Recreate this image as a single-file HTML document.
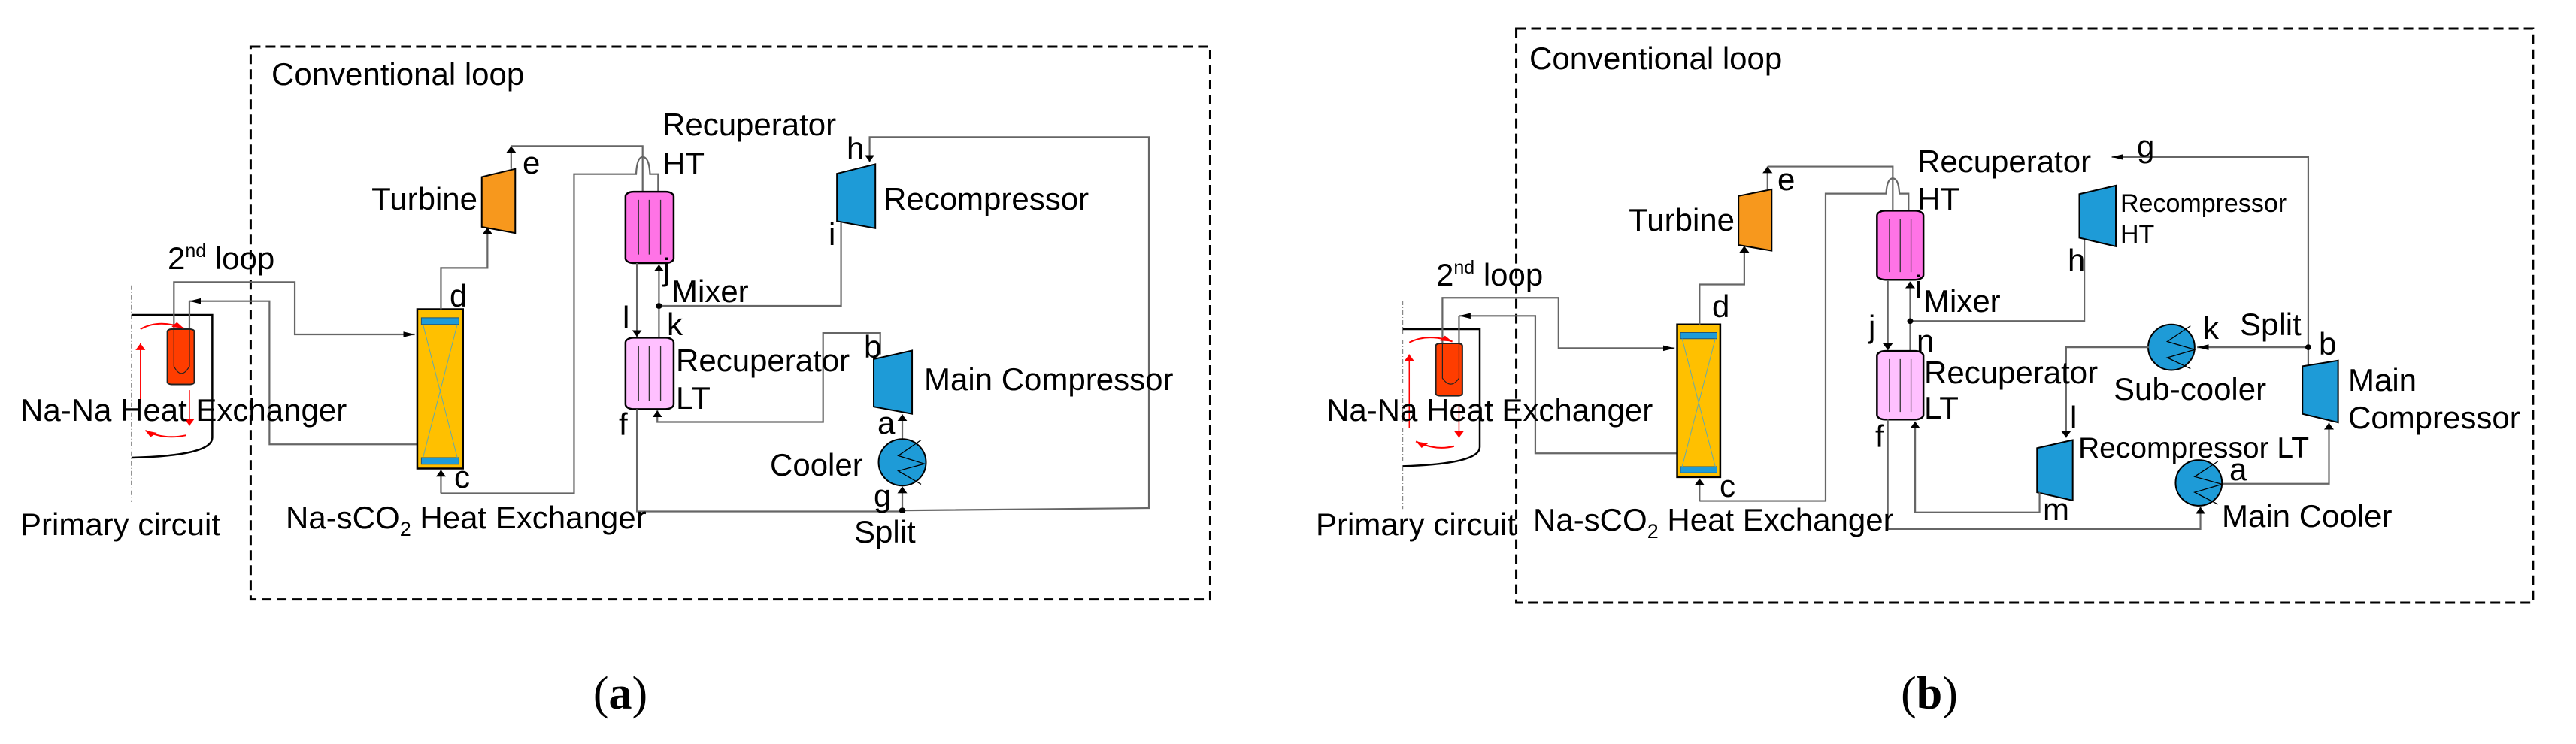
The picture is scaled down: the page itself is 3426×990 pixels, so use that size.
<!DOCTYPE html>
<html><head><meta charset="utf-8"><style>
html,body{margin:0;padding:0;background:#fff}
svg{display:block}
text{font-family:"Liberation Sans",sans-serif;fill:#000}
.s{fill:none;stroke:#666;stroke-width:2.2}
.k{fill:none;stroke:#000;stroke-width:2.5}
.d{fill:none;stroke:#000;stroke-width:3;stroke-dasharray:13 7}
</style></head><body>
<svg width="3426" height="990" viewBox="0 0 3426 990" xmlns="http://www.w3.org/2000/svg">
<defs>
<marker id="ar" markerUnits="userSpaceOnUse" markerWidth="16" markerHeight="16" refX="14" refY="8" orient="auto"><path d="M0,2 L14,8 L0,14 Z" fill="#000"/></marker>
<marker id="rr" markerUnits="userSpaceOnUse" markerWidth="16" markerHeight="16" refX="14" refY="8" orient="auto"><path d="M0,2 L14,8 L0,14 Z" fill="#f00"/></marker>
</defs>

<!-- ================= PANEL A ================= -->
<g transform="matrix(1.086 0 0 0.633 0 0)">
<rect x="307" y="98" width="1175" height="1162" class="d" vector-effect="non-scaling-stroke"/>
<line x1="161" y1="600" x2="161" y2="1055" stroke="#888" stroke-width="1.5" stroke-dasharray="6 3 1 3" vector-effect="non-scaling-stroke"/>
<path d="M161,662 H260 V920 Q260,958 161,962" class="k" vector-effect="non-scaling-stroke"/>
<path d="M213,692 V593 H361 V703 H508" class="s" marker-end="url(#ar)" vector-effect="non-scaling-stroke"/>
<path d="M511,934 H330 V633 H232" class="s" marker-end="url(#ar)" vector-effect="non-scaling-stroke"/>
<line x1="232" y1="633" x2="232" y2="780" class="s" vector-effect="non-scaling-stroke"/>
<rect x="205" y="692" width="33" height="116" rx="5" fill="#ff3d00" stroke="#222" stroke-width="2" vector-effect="non-scaling-stroke"/>
<path d="M213,692 V770 Q222,800 232,770 V692" fill="none" stroke="#222" stroke-width="1.2" vector-effect="non-scaling-stroke"/>
<path d="M172,692 Q195,670 225,690" fill="none" stroke="#f00" stroke-width="2" marker-end="url(#rr)" vector-effect="non-scaling-stroke"/>
<path d="M172,850 V722" fill="none" stroke="#f00" stroke-width="1.5" marker-end="url(#rr)" vector-effect="non-scaling-stroke"/>
<path d="M232,820 V895" fill="none" stroke="#f00" stroke-width="1.5" marker-end="url(#rr)" vector-effect="non-scaling-stroke"/>
<path d="M228,915 Q200,925 178,905" fill="none" stroke="#f00" stroke-width="2" marker-end="url(#rr)" vector-effect="non-scaling-stroke"/>
<rect x="511" y="650" width="56" height="335" fill="#ffc000" stroke="#000" stroke-width="2.5" vector-effect="non-scaling-stroke"/>
<rect x="516" y="668" width="46" height="14" fill="#1e9bd7" stroke="#257" stroke-width="1" vector-effect="non-scaling-stroke"/>
<rect x="516" y="962" width="46" height="14" fill="#1e9bd7" stroke="#257" stroke-width="1" vector-effect="non-scaling-stroke"/>
<path d="M518,682 L560,962 M560,682 L518,962" stroke="#6aa" stroke-width="1" vector-effect="non-scaling-stroke"/>
<path d="M540,650 V563 H597 V478" class="s" marker-end="url(#ar)" vector-effect="non-scaling-stroke"/>
<polygon points="590,372 631,355 631,490 590,477" fill="#f7981d" stroke="#000" stroke-width="2" vector-effect="non-scaling-stroke"/>
<path d="M626,355 V307" class="s" marker-end="url(#ar)" vector-effect="non-scaling-stroke"/>
<path d="M626,307 H787 V403" class="s" vector-effect="non-scaling-stroke"/>
<path d="M540,1037 V988" class="s" marker-end="url(#ar)" vector-effect="non-scaling-stroke"/>
<path d="M540,1037 H703 V366 H779 Q780,330 787,330 Q795,330 796,366 H806 V403" class="s" vector-effect="non-scaling-stroke"/>
<rect x="766" y="403" width="59" height="150" rx="10" fill="#ff73e6" stroke="#000" stroke-width="2.5" vector-effect="non-scaling-stroke"/>
<path d="M782,420 V535 M795,420 V535 M809,420 V535" stroke="#333" stroke-width="1.3" vector-effect="non-scaling-stroke"/>
<path d="M1105,1073 L1407,1068 V288 H1065 V340" class="s" marker-end="url(#ar)" vector-effect="non-scaling-stroke"/>
<polygon points="1025,365 1072,345 1072,480 1025,465" fill="#1e9bd7" stroke="#000" stroke-width="2" vector-effect="non-scaling-stroke"/>
<path d="M1030,468 V643 H807" class="s" vector-effect="non-scaling-stroke"/>
<path d="M807,643 V556" class="s" marker-end="url(#ar)" vector-effect="non-scaling-stroke"/>
<line x1="807" y1="643" x2="807" y2="710" class="s" vector-effect="non-scaling-stroke"/>
<path d="M780,553 V708" class="s" marker-end="url(#ar)" vector-effect="non-scaling-stroke"/>
<ellipse cx="807" cy="643" rx="4" ry="6" fill="#000"/>
<rect x="766" y="710" width="59" height="150" rx="10" fill="#ffc0ff" stroke="#000" stroke-width="2.5" vector-effect="non-scaling-stroke"/>
<path d="M782,727 V843 M795,727 V843 M809,727 V843" stroke="#333" stroke-width="1.3" vector-effect="non-scaling-stroke"/>
<path d="M1078,745 V700 H1008 V887 H805 V863" class="s" marker-end="url(#ar)" vector-effect="non-scaling-stroke"/>
<polygon points="1070,755 1117,737 1117,870 1070,855" fill="#1e9bd7" stroke="#000" stroke-width="2" vector-effect="non-scaling-stroke"/>
<path d="M1105,922 V871" class="s" marker-end="url(#ar)" vector-effect="non-scaling-stroke"/>
<ellipse cx="1105" cy="972" rx="29" ry="49" fill="#1e9bd7" stroke="#000" stroke-width="2" vector-effect="non-scaling-stroke"/>
<path d="M1128,925 L1100,958 L1132,975 L1100,990 L1128,1018" fill="none" stroke="#000" stroke-width="1.3" vector-effect="non-scaling-stroke"/>
<path d="M1105,1073 V1023" class="s" marker-end="url(#ar)" vector-effect="non-scaling-stroke"/>
<path d="M780,860 V1075 H1105" class="s" vector-effect="non-scaling-stroke"/>
<ellipse cx="1105" cy="1073" rx="4" ry="6" fill="#000"/>
</g>

<g font-size="42">
<text x="361" y="113">Conventional loop</text>
<text x="881" y="180">Recuperator</text>
<text x="881" y="232">HT</text>
<text x="635" y="279" text-anchor="end">Turbine</text>
<text x="695" y="231">e</text>
<text x="1126" y="212">h</text>
<text x="1175" y="279">Recompressor</text>
<text x="1102" y="326">i</text>
<text x="223" y="358">2<tspan font-size="25" dy="-16">nd</tspan><tspan dy="16">  loop</tspan></text>
<text x="882" y="373">j</text>
<text x="893" y="402">Mixer</text>
<text x="598" y="408">d</text>
<text x="828" y="437">l</text>
<text x="887" y="446">k</text>
<text x="1149" y="476">b</text>
<text x="899" y="494">Recuperator</text>
<text x="899" y="544">LT</text>
<text x="1229" y="519">Main Compressor</text>
<text x="27" y="560">Na-Na Heat Exchanger</text>
<text x="823" y="579">f</text>
<text x="1167" y="577">a</text>
<text x="1024" y="633">Cooler</text>
<text x="604" y="649">c</text>
<text x="1162" y="674">g</text>
<text x="380" y="703">Na-sCO<tspan font-size="27" dy="10">2</tspan><tspan dy="-10"> Heat Exchanger</tspan></text>
<text x="27" y="712">Primary circuit</text>
<text x="1136" y="722">Split</text>
</g>
<text x="825" y="943" text-anchor="middle" font-size="62" style="font-family:'Liberation Serif',serif">(<tspan font-weight="bold">a</tspan>)</text>

<!-- ================= PANEL B ================= -->
<g transform="matrix(1.103 0 0 0.633 1700 0)">
<rect x="287" y="60" width="1226" height="1207" class="d" vector-effect="non-scaling-stroke"/>
<line x1="150" y1="632" x2="150" y2="1070" stroke="#888" stroke-width="1.5" stroke-dasharray="6 3 1 3" vector-effect="non-scaling-stroke"/>
<path d="M150,692 H243 V940 Q243,975 150,980" class="k" vector-effect="non-scaling-stroke"/>
<path d="M198,722 V626 H338 V732 H478" class="s" marker-end="url(#ar)" vector-effect="non-scaling-stroke"/>
<path d="M481,953 H310 V664 H218" class="s" marker-end="url(#ar)" vector-effect="non-scaling-stroke"/>
<line x1="218" y1="664" x2="218" y2="790" class="s" vector-effect="non-scaling-stroke"/>
<rect x="190" y="722" width="32" height="110" rx="5" fill="#ff3d00" stroke="#222" stroke-width="2" vector-effect="non-scaling-stroke"/>
<path d="M198,722 V795 Q208,820 218,795 V722" fill="none" stroke="#222" stroke-width="1.2" vector-effect="non-scaling-stroke"/>
<path d="M158,720 Q180,700 210,718" fill="none" stroke="#f00" stroke-width="2" marker-end="url(#rr)" vector-effect="non-scaling-stroke"/>
<path d="M158,900 V745" fill="none" stroke="#f00" stroke-width="1.5" marker-end="url(#rr)" vector-effect="non-scaling-stroke"/>
<path d="M218,850 V920" fill="none" stroke="#f00" stroke-width="1.5" marker-end="url(#rr)" vector-effect="non-scaling-stroke"/>
<path d="M212,938 Q190,948 166,928" fill="none" stroke="#f00" stroke-width="2" marker-end="url(#rr)" vector-effect="non-scaling-stroke"/>
<rect x="481" y="682" width="52" height="321" fill="#ffc000" stroke="#000" stroke-width="2.5" vector-effect="non-scaling-stroke"/>
<rect x="485" y="699" width="44" height="13" fill="#1e9bd7" stroke="#257" stroke-width="1" vector-effect="non-scaling-stroke"/>
<rect x="485" y="981" width="44" height="13" fill="#1e9bd7" stroke="#257" stroke-width="1" vector-effect="non-scaling-stroke"/>
<path d="M487,712 L527,981 M527,712 L487,981" stroke="#6aa" stroke-width="1" vector-effect="non-scaling-stroke"/>
<path d="M508,682 V598 H562 V517" class="s" marker-end="url(#ar)" vector-effect="non-scaling-stroke"/>
<polygon points="555,412 595,398 595,527 555,515" fill="#f7981d" stroke="#000" stroke-width="2" vector-effect="non-scaling-stroke"/>
<path d="M590,398 V350" class="s" marker-end="url(#ar)" vector-effect="non-scaling-stroke"/>
<path d="M590,350 H741 V443" class="s" vector-effect="non-scaling-stroke"/>
<path d="M508,1053 V1006" class="s" marker-end="url(#ar)" vector-effect="non-scaling-stroke"/>
<path d="M508,1053 H660 V407 H733 Q734,375 741,375 Q748,375 749,407 H760 V443" class="s" vector-effect="non-scaling-stroke"/>
<rect x="722" y="443" width="56" height="145" rx="10" fill="#ff73e6" stroke="#000" stroke-width="2.5" vector-effect="non-scaling-stroke"/>
<path d="M737,460 V572 M750,460 V572 M763,460 V572" stroke="#333" stroke-width="1.3" vector-effect="non-scaling-stroke"/>
<path d="M1242,730 V330 H1005" class="s" marker-end="url(#ar)" vector-effect="non-scaling-stroke"/>
<polygon points="966,408 1010,390 1010,518 966,500" fill="#1e9bd7" stroke="#000" stroke-width="2" vector-effect="non-scaling-stroke"/>
<path d="M972,505 V675 H762" class="s" vector-effect="non-scaling-stroke"/>
<path d="M762,675 V592" class="s" marker-end="url(#ar)" vector-effect="non-scaling-stroke"/>
<line x1="762" y1="675" x2="762" y2="738" class="s" vector-effect="non-scaling-stroke"/>
<path d="M735,588 V736" class="s" marker-end="url(#ar)" vector-effect="non-scaling-stroke"/>
<ellipse cx="762" cy="675" rx="3.6" ry="6" fill="#000"/>
<rect x="722" y="738" width="56" height="144" rx="10" fill="#ffc0ff" stroke="#000" stroke-width="2.5" vector-effect="non-scaling-stroke"/>
<path d="M737,755 V866 M750,755 V866 M763,755 V866" stroke="#333" stroke-width="1.3" vector-effect="non-scaling-stroke"/>
<path d="M1242,730 H1108" class="s" marker-end="url(#ar)" vector-effect="non-scaling-stroke"/>
<line x1="1242" y1="730" x2="1242" y2="770" class="s" vector-effect="non-scaling-stroke"/>
<ellipse cx="1242" cy="730" rx="3.6" ry="6" fill="#000"/>
<ellipse cx="1077" cy="730" rx="28" ry="48" fill="#1e9bd7" stroke="#000" stroke-width="2" vector-effect="non-scaling-stroke"/>
<path d="M1100,685 L1072,718 L1105,735 L1072,752 L1100,775" fill="none" stroke="#000" stroke-width="1.3" vector-effect="non-scaling-stroke"/>
<path d="M1050,730 H950 V920" class="s" marker-end="url(#ar)" vector-effect="non-scaling-stroke"/>
<polygon points="915,942 958,925 958,1052 915,1035" fill="#1e9bd7" stroke="#000" stroke-width="2" vector-effect="non-scaling-stroke"/>
<path d="M918,1035 V1077 H768 V886" class="s" marker-end="url(#ar)" vector-effect="non-scaling-stroke"/>
<polygon points="1235,770 1278,758 1278,888 1235,870" fill="#1e9bd7" stroke="#000" stroke-width="2" vector-effect="non-scaling-stroke"/>
<path d="M1138,1017 H1267 V889" class="s" marker-end="url(#ar)" vector-effect="non-scaling-stroke"/>
<ellipse cx="1110" cy="1015" rx="28" ry="48" fill="#1e9bd7" stroke="#000" stroke-width="2" vector-effect="non-scaling-stroke"/>
<path d="M1133,970 L1105,1002 L1138,1018 L1105,1035 L1133,1060" fill="none" stroke="#000" stroke-width="1.3" vector-effect="non-scaling-stroke"/>
<path d="M735,882 V1112 H1112 V1066" class="s" marker-end="url(#ar)" vector-effect="non-scaling-stroke"/>
</g>

<g font-size="42">
<text x="2034" y="92">Conventional loop</text>
<text x="2550" y="229">Recuperator</text>
<text x="2550" y="279">HT</text>
<text x="2307" y="307" text-anchor="end">Turbine</text>
<text x="2364" y="253">e</text>
<text x="2842" y="209">g</text>
<text x="2820" y="282" font-size="34">Recompressor</text>
<text x="2820" y="323" font-size="34">HT</text>
<text x="2750" y="361">h</text>
<text x="1910" y="380">2<tspan font-size="25" dy="-16">nd</tspan><tspan dy="16">  loop</tspan></text>
<text x="2547" y="396">i</text>
<text x="2558" y="415">Mixer</text>
<text x="2277" y="422">d</text>
<text x="2485" y="449">j</text>
<text x="2549" y="468">n</text>
<text x="2930" y="451">k</text>
<text x="2979" y="446">Split</text>
<text x="3084" y="472">b</text>
<text x="2559" y="510">Recuperator</text>
<text x="2559" y="557">LT</text>
<text x="2811" y="532">Sub-cooler</text>
<text x="3123" y="520">Main</text>
<text x="3123" y="570">Compressor</text>
<text x="1764" y="560">Na-Na Heat Exchanger</text>
<text x="2753" y="570">l</text>
<text x="2494" y="595">f</text>
<text x="2764" y="609" font-size="39">Recompressor LT</text>
<text x="2965" y="639">a</text>
<text x="2287" y="661">c</text>
<text x="2717" y="692">m</text>
<text x="2955" y="701">Main Cooler</text>
<text x="2039" y="706">Na-sCO<tspan font-size="27" dy="10">2</tspan><tspan dy="-10"> Heat Exchanger</tspan></text>
<text x="1750" y="712">Primary circuit</text>
</g>
<text x="2566" y="943" text-anchor="middle" font-size="62" style="font-family:'Liberation Serif',serif">(<tspan font-weight="bold">b</tspan>)</text>
</svg>
</body></html>
